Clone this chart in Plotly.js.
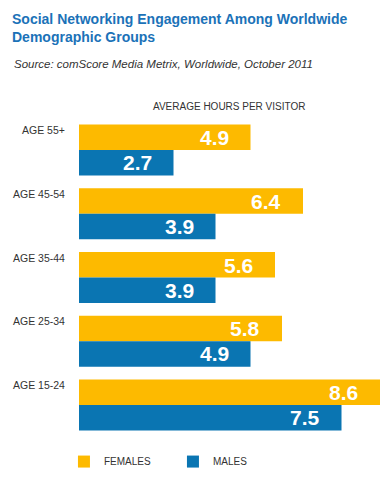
<!DOCTYPE html>
<html>
<head>
<meta charset="utf-8">
<script src="https://cdn.plot.ly/plotly-3.0.1.min.js"></script>
<style>html,body{margin:0;padding:0;background:#fff;}#chart{width:391px;height:493px;}</style>
</head>
<body>
<div id="chart"></div>
<script>
var categories = ['AGE 55+', 'AGE 45-54', 'AGE 35-44', 'AGE 25-34', 'AGE 15-24'];
var females = [4.9, 6.4, 5.6, 5.8, 8.6];
var males = [2.7, 3.9, 3.9, 4.9, 7.5];
var seriesNames = ['FEMALES', 'MALES'];
var titleText = 'Social Networking Engagement Among Worldwide<br>Demographic Groups';
var sourceText = 'Source: comScore Media Metrix, Worldwide, October 2011';
var axisLabel = 'AVERAGE HOURS PER VISITOR';

var ORANGE = '#FDBA00';
var BLUE = '#0A75B2';
var TEXT = '#333333';
var FONT = 'Liberation Sans, Arial, sans-serif';

var traces = [
  {type: 'bar', orientation: 'h', name: seriesNames[0], x: females, y: categories,
   marker: {color: ORANGE}, hoverinfo: 'x'},
  {type: 'bar', orientation: 'h', name: seriesNames[1], x: males, y: categories,
   marker: {color: BLUE}, hoverinfo: 'x'}
];

var annotations = [];
categories.forEach(function (c, i) {
  annotations.push({xref: 'paper', x: 0, xshift: -12, xanchor: 'right', yref: 'y', y: c, yshift: 20,
    yanchor: 'middle', text: c, showarrow: false, font: {family: FONT, size: 10.5, color: TEXT}});
  annotations.push({xref: 'x', x: females[i], xshift: -20, xanchor: 'right', yref: 'y', y: c, yshift: 12.5,
    yanchor: 'middle', text: females[i].toFixed(1), showarrow: false,
    font: {family: FONT, size: 21, color: '#ffffff', weight: 'bold'}});
  annotations.push({xref: 'x', x: males[i], xshift: -20, xanchor: 'right', yref: 'y', y: c, yshift: -12.5,
    yanchor: 'middle', text: males[i].toFixed(1), showarrow: false,
    font: {family: FONT, size: 21, color: '#ffffff', weight: 'bold'}});
});
annotations.push({xref: 'paper', x: 0.498, xanchor: 'center', yref: 'paper', y: 1.037, yanchor: 'middle',
  text: axisLabel, showarrow: false, font: {family: FONT, size: 10, color: TEXT}});
annotations.push({xref: 'paper', x: -0.2226, xanchor: 'left', yref: 'paper', y: 1.17, yanchor: 'middle',
  text: sourceText, showarrow: false, font: {family: FONT, size: 11.5, color: TEXT, style: 'italic'}});

var layout = {
  width: 391, height: 493,
  margin: {l: 79, r: 11, t: 117.5, b: 55.5, pad: 0},
  paper_bgcolor: '#ffffff', plot_bgcolor: '#ffffff',
  font: {family: FONT, color: TEXT},
  title: {text: titleText, xref: 'container', x: 12 / 391, xanchor: 'left',
    yref: 'container', y: 1 - 24 / 493, yanchor: 'top',
    font: {family: FONT, size: 14, color: '#1B72B8', weight: 'bold'}},
  barmode: 'group', bargap: 0.2, bargroupgap: 0,
  xaxis: {range: [0, 8.6], visible: false, fixedrange: true},
  yaxis: {autorange: 'reversed', showticklabels: false, showgrid: false, zeroline: false,
    ticks: '', fixedrange: true},
  showlegend: true,
  legend: {orientation: 'h', x: -0.05, xanchor: 'left', y: -0.077, yanchor: 'middle',
    font: {family: FONT, size: 10, color: TEXT}, entrywidth: 64, entrywidthmode: 'pixels',
    bgcolor: 'rgba(0,0,0,0)', traceorder: 'normal'},
  annotations: annotations
};

Plotly.newPlot('chart', traces, layout, {displayModeBar: false, staticPlot: true});
</script>
</body>
</html>
